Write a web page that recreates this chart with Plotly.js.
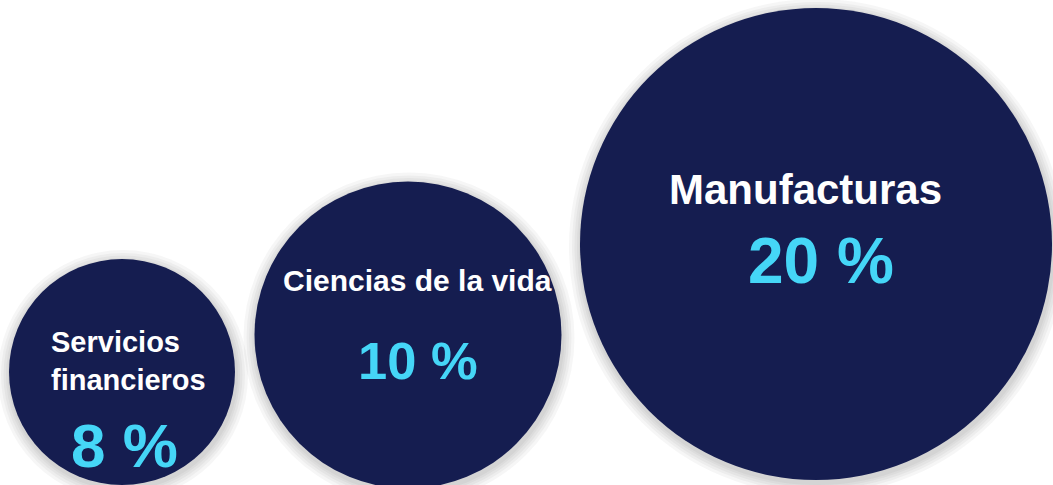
<!DOCTYPE html>
<html>
<head>
<meta charset="utf-8">
<script src="https://cdn.plot.ly/plotly-3.0.1.min.js"></script>
<style>
  html, body { margin: 0; padding: 0; background: #ffffff; }
  #chart { width: 1053px; height: 485px; }
</style>
</head>
<body>
<div id="chart"></div>
<script>
// ---- data ----
const categories = ["Servicios financieros", "Ciencias de la vida", "Manufacturas"];
const shares = [8, 10, 20];
const labelLines = [["Servicios", "financieros"], ["Ciencias de la vida"], ["Manufacturas"]];

// ---- layout (pixel-space placement) ----
const centerX = [122, 408, 816];
const centerY = [372, 335, 244];
const diameters = [226, 307, 472];

const navy = "#151d50";
const cyan = "#45d6f7";

const traces = [];
// soft shadow rings
const shadowSteps = [24, 18, 13, 8, 4];
shadowSteps.forEach(function (k) {
  traces.push({
    type: "scatter", mode: "markers",
    x: centerX.map(function (v) { return v + 1; }),
    y: centerY.map(function (v) { return v + 3; }),
    marker: { size: diameters.map(function (d) { return d + k; }), color: "rgba(60,60,60,0.07)", line: { width: 0 } },
    hoverinfo: "skip", showlegend: false, cliponaxis: false
  });
});
// main bubbles
traces.push({
  type: "scatter", mode: "markers",
  x: centerX, y: centerY,
  text: categories,
  customdata: shares,
  marker: { size: diameters, color: navy, opacity: 1, line: { width: 0 } },
  hovertemplate: "%{text}: %{customdata} %<extra></extra>",
  showlegend: false, cliponaxis: false
});

const font = "'Liberation Sans', Arial, sans-serif";
const annotations = [
  // labels
  { x: 49, y: 361, xanchor: "left", align: "left", text: labelLines[0].join("<br>"), size: 29 },
  { x: 417, y: 280, xanchor: "center", align: "center", text: labelLines[1].join("<br>"), size: 30 },
  { x: 805, y: 189, xanchor: "center", align: "center", text: labelLines[2].join("<br>"), size: 42 }
].map(function (a) {
  return { x: a.x, y: a.y, xref: "x", yref: "y", xanchor: a.xanchor, yanchor: "middle", align: a.align,
           text: "<b>" + a.text + "</b>", showarrow: false, font: { family: font, size: a.size, color: "#ffffff" } };
});
const pctPos = [[124, 445, 62], [418, 360, 52.5], [821, 261, 64]];
shares.forEach(function (s, i) {
  annotations.push({ x: pctPos[i][0], y: pctPos[i][1], xref: "x", yref: "y", xanchor: "center", yanchor: "middle",
    text: "<b>" + s + " %</b>", showarrow: false, font: { family: font, size: pctPos[i][2], color: cyan } });
});

const layout = {
  width: 1053, height: 485,
  margin: { l: 0, r: 0, t: 0, b: 0, pad: 0 },
  paper_bgcolor: "#ffffff", plot_bgcolor: "#ffffff",
  xaxis: { range: [0, 1053], visible: false, fixedrange: true },
  yaxis: { range: [485, 0], visible: false, fixedrange: true },
  annotations: annotations,
  showlegend: false
};

Plotly.newPlot("chart", traces, layout, { displayModeBar: false, staticPlot: true });
</script>
</body>
</html>
